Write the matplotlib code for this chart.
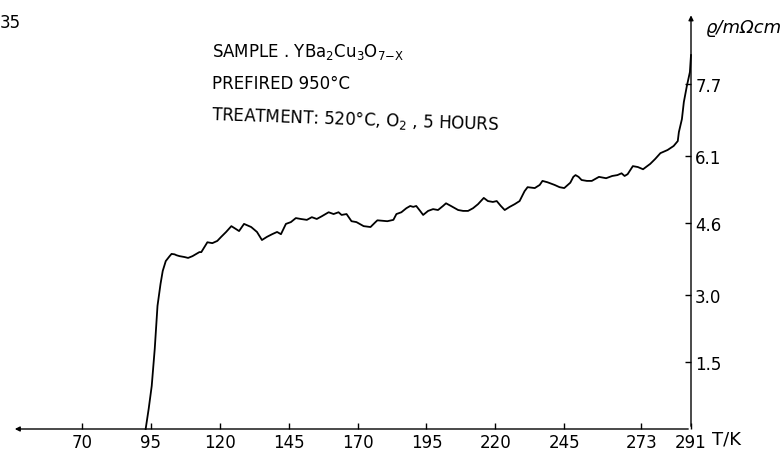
import matplotlib
matplotlib.use("Agg")
import matplotlib.pyplot as plt

# resistivity curve (T in K, rho in mOhm cm)
temp = [93.1, 94.2, 95.3, 96.4, 97.4, 98.5, 99.3, 100.4, 101.8, 102.5,
        103.6, 104.3, 105.4, 107.2, 108.5, 110.1, 112.6, 113.3, 114.4, 115.5,
        117.3, 119.1, 120.5, 122.3, 124.2, 126.0, 127.0, 128.8, 131.4, 133.5,
        135.3, 137.1, 139.0, 140.8, 142.2, 144.0, 145.8, 147.6, 149.4, 151.6,
        153.4, 155.2, 157.0, 159.5, 161.3, 163.1, 164.2, 166.0, 167.8, 169.6,
        172.2, 174.7, 176.5, 177.2, 180.8, 183.0, 184.1, 185.9, 187.7, 189.1,
        190.2, 191.3, 192.7, 193.8, 195.6, 197.4, 199.2, 201.0, 202.1, 203.9,
        206.5, 208.3, 210.1, 211.9, 213.7, 215.8, 217.3, 219.1, 220.5, 222.0,
        223.4, 225.2, 227.0, 228.8, 230.6, 231.7, 234.3, 236.1, 237.1, 238.9,
        241.5, 243.3, 245.0, 247.2, 248.3, 249.1, 250.2, 251.3, 253.2, 255.0,
        257.6, 260.2, 262.4, 264.3, 265.8, 266.9, 268.0, 269.9, 271.7, 273.6,
        275.1, 276.2, 278.0, 279.9, 282.5, 284.7, 286.2, 286.6, 287.7, 288.4,
        289.5, 290.6, 291.0]
rho = [0.0, 0.45, 0.96, 1.79, 2.75, 3.24, 3.53, 3.75, 3.86, 3.91,
       3.90, 3.88, 3.86, 3.84, 3.82, 3.86, 3.95, 3.95, 4.06, 4.17,
       4.15, 4.20, 4.29, 4.40, 4.53, 4.46, 4.42, 4.58, 4.51, 4.40,
       4.22, 4.29, 4.35, 4.40, 4.35, 4.58, 4.62, 4.71, 4.69, 4.67,
       4.73, 4.69, 4.75, 4.84, 4.80, 4.84, 4.78, 4.80, 4.64, 4.62,
       4.53, 4.51, 4.62, 4.66, 4.64, 4.67, 4.80, 4.84, 4.93, 4.98,
       4.96, 4.98, 4.87, 4.78, 4.87, 4.91, 4.89, 4.98, 5.04, 4.98,
       4.89, 4.87, 4.87, 4.93, 5.02, 5.16, 5.09, 5.07, 5.09, 4.98,
       4.89, 4.96, 5.02, 5.09, 5.31, 5.40, 5.38, 5.45, 5.54, 5.51,
       5.45, 5.40, 5.38, 5.50, 5.63, 5.67, 5.63, 5.56, 5.54, 5.54,
       5.63, 5.60, 5.65, 5.67, 5.71, 5.65, 5.69, 5.87, 5.85, 5.80,
       5.87, 5.92, 6.03, 6.16, 6.23, 6.32, 6.43, 6.63, 6.92, 7.30,
       7.66, 7.97, 8.35]

xticks = [70, 95, 120, 145, 170, 195, 220, 245, 273, 291]
yticks = [1.5, 3.0, 4.6, 6.1, 7.7]

W, H = 784, 452
fig = plt.figure(figsize=(W / 100, H / 100), dpi=100)
# axes box in pixels: x 12..691, y 18..430
ax = fig.add_axes([12 / W, (H - 430) / H, (691 - 12) / W, (430 - 18) / H])
ax.set_xlim(44.6, 291)
ax.set_ylim(0, 9.2)

ax.plot(temp, rho, color="black", lw=1.3, clip_on=False)

for s in ax.spines.values():
    s.set_visible(False)

# axes drawn as arrows
ax.annotate("", xy=(44.6, 0), xytext=(291, 0),
            arrowprops=dict(arrowstyle="-|>", lw=1.0, color="black", mutation_scale=7),
            annotation_clip=False)
ax.annotate("", xy=(291, 9.3), xytext=(291, 0),
            arrowprops=dict(arrowstyle="-|>", lw=1.0, color="black", mutation_scale=7),
            annotation_clip=False)

ax.set_xticks(xticks)
ax.set_xticklabels([str(t) for t in xticks])
ax.yaxis.tick_right()
ax.set_yticks(yticks)
ax.set_yticklabels([f"{v:.1f}" for v in yticks])
ax.tick_params(axis="x", direction="in", length=4, width=1, labelsize=12, pad=3)
ax.tick_params(axis="y", direction="in", length=4, width=1, labelsize=12, pad=3)
ax.patch.set_alpha(0)

def fx(px):
    return px / W

def fy(py):
    return 1 - py / H

fig.text(fx(0), fy(23), "35", fontsize=12, va="center", ha="left")
fig.text(fx(212), fy(52), r"SAMPLE . YBa$_2$Cu$_3$O$_{7\mathrm{-X}}$",
         fontsize=12, va="center", ha="left")
fig.text(fx(212), fy(84), "PREFIRED 950°C", fontsize=12, va="center", ha="left")
fig.text(fx(211), fy(115), r"TREATMENT: 520°C, O$_2$ , 5 HOURS",
         fontsize=12, va="center", ha="left", rotation=-2, rotation_mode="anchor")
fig.text(fx(706), fy(28), "ϱ/mΩcm", fontsize=13, style="italic", va="center", ha="left")
fig.text(fx(712), fy(440), "T/K", fontsize=13, va="center", ha="left")

fig.savefig("out.png", dpi=100)
